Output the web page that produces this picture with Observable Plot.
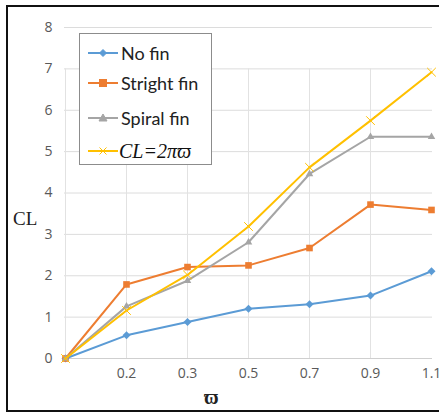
<!DOCTYPE html>
<html>
<head>
<meta charset="utf-8">
<script src="https://cdn.jsdelivr.net/npm/d3@7"></script>
<script src="https://cdn.jsdelivr.net/npm/@observablehq/plot@0.6"></script>
<style>
  html, body { margin: 0; padding: 0; background: #fff; }
  #wrap { position: relative; width: 439px; height: 413px; overflow: hidden; }
  #frame { position: absolute; left: 6px; top: 5px; width: 440px; height: 403px;
           border-left: 2px solid #111; border-top: 2px solid #111; border-bottom: 2px solid #111; }
  #chart { position: absolute; left: 0; top: 0; }
  .legend { position: absolute; left: 79px; top: 33px; width: 131px; height: 130px;
            border: 1px solid #8c8c8c; background: #fff; }
  .row { position: absolute; left: 8px; height: 20px; display: flex; align-items: center; }
  .row svg { flex: none; }
  .row span { margin-left: 3px; font-family: Lato, "Open Sans", sans-serif; font-size: 18px; color: #222; white-space: nowrap; }
  .row span.eq { font-family: "Liberation Serif", "DejaVu Serif", serif; font-style: italic; font-size: 20px; color: #111; margin-left: 1px; }
  .ylab { position: absolute; left: 13px; top: 208px; font-family: "Liberation Serif", serif; font-size: 19px; color: #222; }
  .xlab { position: absolute; left: 204px; top: 386px; font-family: "Liberation Serif", "DejaVu Serif", serif; font-size: 20px; font-weight: bold; color: #222; }
</style>
</head>
<body>
<div id="wrap">
  <div id="chart"></div>
  <div id="frame"></div>
  <div class="legend" id="legend"></div>
  <div class="ylab">CL</div>
  <div class="xlab">ϖ</div>
</div>
<script>
// Rotation parameter categories and their axis labels
const omega = ["0", "0.2", "0.3", "0.5", "0.7", "0.9", "1.1"];
const omegaLabels = ["", "0.2", "0.3", "0.5", "0.7", "0.9", "1.1"];

// Lift coefficient for each configuration
const noFin = [0, 0.56, 0.88, 1.20, 1.31, 1.52, 2.11];
const strightFin = [0, 1.79, 2.21, 2.25, 2.67, 3.72, 3.59];
const spiralFin = [0, 1.26, 1.88, 2.81, 4.46, 5.36, 5.36];
const theory = [0, 1.16, 2.02, 3.19, 4.62, 5.75, 6.92];

const yTicks = [0, 1, 2, 3, 4, 5, 6, 7, 8];

const seriesNames = ["No fin", "Stright fin", "Spiral fin", "CL=2πϖ"];
const seriesValues = [noFin, strightFin, spiralFin, theory];
const colors = ["#5b9bd5", "#ed7d31", "#a5a5a5", "#ffc000"];
const symbols = ["diamond2", "square2", "triangle2", "times"];

const rows = [];
seriesNames.forEach((name, i) => {
  seriesValues[i].forEach((v, j) => rows.push({series: name, omega: omega[j], cl: v}));
});

const labelOf = new Map(omega.map((o, i) => [o, omegaLabels[i]]));

const marks = [
  Plot.ruleY(yTicks, {stroke: "#dcdcdc", strokeWidth: 1}),
  Plot.ruleX(omega.slice(0, 6), {y1: 0, y2: 7, stroke: "#e2e2e2", strokeWidth: 1}),
  Plot.ruleY([0], {stroke: "#cfcfcf", strokeWidth: 1.2}),
  Plot.axisY(yTicks, {tickSize: 0, tickPadding: 12, fill: "#595959", fontSize: 14, label: null}),
  Plot.axisX(omega, {tickSize: 0, tickPadding: 10, fill: "#595959", fontSize: 14, label: null,
                     tickFormat: d => labelOf.get(d)})
];
seriesNames.forEach((name, i) => {
  const data = rows.filter(r => r.series === name);
  marks.push(Plot.line(data, {x: "omega", y: "cl", stroke: colors[i], strokeWidth: 2}));
  if (symbols[i] === "times") {
    marks.push(Plot.dot(data, {x: "omega", y: "cl", symbol: "times", stroke: colors[i], r: 4, strokeWidth: 1}));
  } else {
    marks.push(Plot.dot(data, {x: "omega", y: "cl", symbol: symbols[i], fill: colors[i],
                               r: symbols[i] === "square2" ? 4.2 : 3.6}));
  }
});

const chart = Plot.plot({
  width: 439,
  height: 413,
  marginLeft: 64,
  marginRight: 7,
  marginTop: 27,
  marginBottom: 55,
  x: {type: "point", domain: omega, padding: 0, axis: null},
  y: {domain: [0, 8], axis: null},
  style: {fontFamily: "'Open Sans', Lato, sans-serif", background: "transparent"},
  marks
});
document.getElementById("chart").appendChild(chart);

// Legend entries drawn with the same colours and markers
const legend = document.getElementById("legend");
const rowTops = [9, 39, 74, 107];
const markerSvg = [
  '<path d="M15,-3.5 L18.5,0 L15,3.5 L11.5,0Z" />',
  '<rect x="11.5" y="-3.5" width="7" height="7" />',
  '<path d="M15,-4 L19,3 L11,3Z" />',
  '<path d="M11.5,-3.5 L18.5,3.5 M11.5,3.5 L18.5,-3.5" fill="none" stroke-width="1" />'
];
seriesNames.forEach((name, i) => {
  const row = document.createElement("div");
  row.className = "row";
  row.style.top = rowTops[i] + "px";
  const isEq = i === 3;
  row.innerHTML =
    `<svg width="30" height="20" viewBox="0 -10 30 20">` +
    `<line x1="0" y1="0" x2="30" y2="0" stroke="${colors[i]}" stroke-width="2"/>` +
    `<g fill="${colors[i]}" stroke="${colors[i]}">${markerSvg[i]}</g></svg>` +
    `<span class="${isEq ? "eq" : ""}">${name}</span>`;
  legend.appendChild(row);
});
</script>
</body>
</html>
